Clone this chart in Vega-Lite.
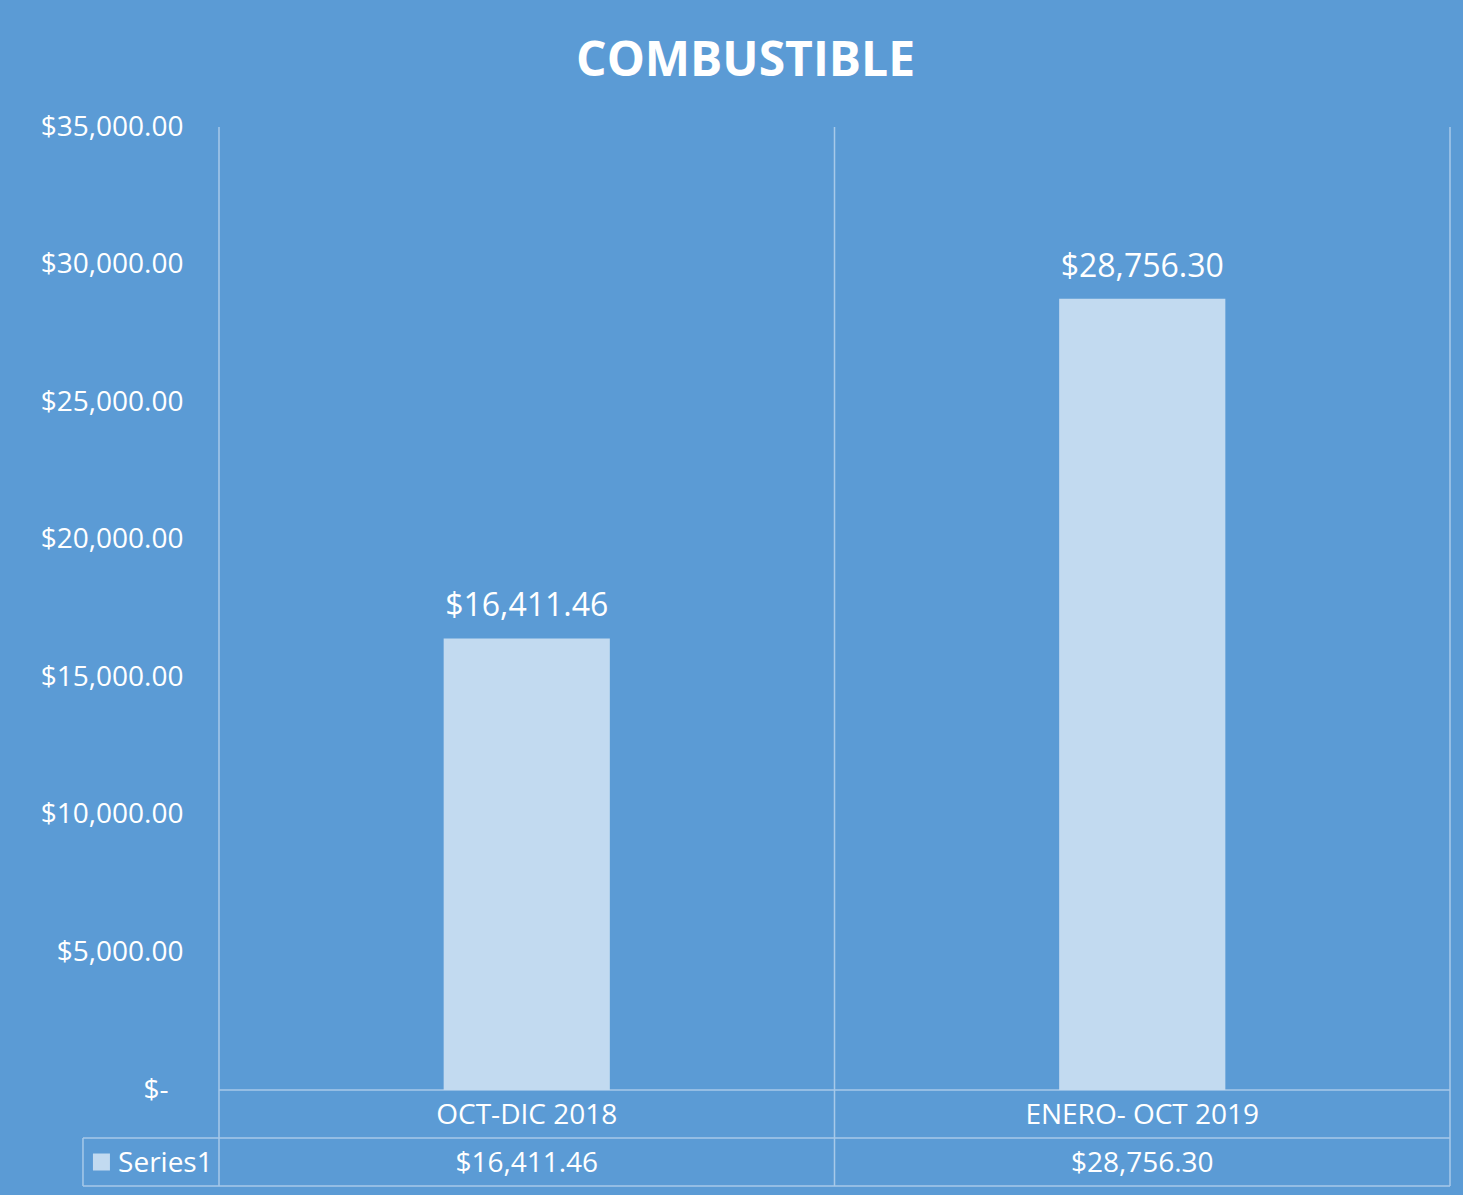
{
  "$schema": "https://vega.github.io/schema/vega-lite/v6.json",
  "autosize": {"type": "none"},
  "width": 1231,
  "height": 1059,
  "padding": {"left": 219, "top": 127, "right": 13, "bottom": 9},
  "background": "#5B9BD5",
  "config": {
    "view": {"stroke": null},
    "font": "Open Sans"
  },
  "title": {
    "text": "COMBUSTIBLE",
    "font": "Open Sans",
    "fontWeight": "bold",
    "fontSize": 48,
    "color": "#FFFFFF",
    "anchor": "middle",
    "frame": "bounds",
    "offset": 27
  },
  "datasets": {
    "bars": [
      {"periodo": "OCT-DIC 2018", "monto": 16411.46},
      {"periodo": "ENERO- OCT 2019", "monto": 28756.30}
    ],
    "grid": [
      {"x": 0, "x2": 0, "y": 35000, "y2": -3489},
      {"x": 1, "x2": 1, "y": 35000, "y2": -3489},
      {"x": 2, "x2": 2, "y": 35000, "y2": -3489},
      {"x": -0.221, "x2": -0.221, "y": -1745, "y2": -3489},
      {"x": 0, "x2": 2, "y": 0, "y2": 0},
      {"x": -0.221, "x2": 2, "y": -1745, "y2": -1745},
      {"x": -0.221, "x2": 2, "y": -3489, "y2": -3489}
    ],
    "legend": [
      {"x": -0.191, "xt": -0.164, "serie": "Series1"}
    ]
  },
  "resolve": {"scale": {"x": "independent"}},
  "layer": [
    {
      "data": {"name": "grid"},
      "mark": {"type": "rule", "color": "#A7C9E9", "strokeWidth": 1.5},
      "encoding": {
        "x": {"field": "x", "type": "quantitative", "scale": {"domain": [0, 2], "nice": false, "zero": false}, "axis": null},
        "x2": {"field": "x2"},
        "y": {"field": "y", "type": "quantitative", "scale": {"domain": [-3489, 35000], "nice": false, "zero": false},
              "axis": {"values": [0, 5000, 10000, 15000, 20000, 25000, 30000, 35000], "title": null, "domain": false, "ticks": false, "grid": false,
                       "labelFontSize": 28, "labelColor": "#FFFFFF", "labelFont": "Open Sans",
                       "labelPadding": {"condition": {"test": "datum.value == 0", "value": 51}, "value": 36},
                       "labelExpr": "datum.value == 0 ? '$-' : '$' + format(datum.value, ',.2f')"}},
        "y2": {"field": "y2"}
      }
    },
    {
      "data": {"name": "bars"},
      "mark": {"type": "bar", "fill": "#C2DAF0"},
      "encoding": {
        "x": {"field": "periodo", "type": "nominal", "sort": null, "scale": {"paddingInner": 0.73, "paddingOuter": 0.365}, "axis": null},
        "y": {"field": "monto", "type": "quantitative"}
      }
    },
    {
      "data": {"name": "bars"},
      "mark": {"type": "text", "color": "#FFFFFF", "fontSize": 32, "baseline": "alphabetic", "dy": -22, "font": "Open Sans"},
      "encoding": {
        "x": {"field": "periodo", "type": "nominal", "sort": null, "axis": null},
        "y": {"field": "monto", "type": "quantitative"},
        "text": {"field": "monto", "type": "quantitative", "format": "$,.2f"}
      }
    },
    {
      "data": {"name": "bars"},
      "mark": {"type": "text", "color": "#FFFFFF", "fontSize": 28, "baseline": "middle", "font": "Open Sans"},
      "encoding": {
        "x": {"field": "periodo", "type": "nominal", "sort": null, "axis": null},
        "y": {"datum": -940},
        "text": {"field": "periodo", "type": "nominal"}
      }
    },
    {
      "data": {"name": "bars"},
      "mark": {"type": "text", "color": "#FFFFFF", "fontSize": 28, "baseline": "middle", "font": "Open Sans"},
      "encoding": {
        "x": {"field": "periodo", "type": "nominal", "sort": null, "axis": null},
        "y": {"datum": -2685},
        "text": {"field": "monto", "type": "quantitative", "format": "$,.2f"}
      }
    },
    {
      "data": {"name": "legend"},
      "mark": {"type": "square", "fill": "#C2DAF0", "size": 289, "opacity": 1},
      "encoding": {
        "x": {"field": "x", "type": "quantitative", "scale": {"domain": [0, 2], "nice": false, "zero": false}, "axis": null},
        "y": {"datum": -2617}
      }
    },
    {
      "data": {"name": "legend"},
      "mark": {"type": "text", "color": "#FFFFFF", "fontSize": 28, "baseline": "middle", "align": "left", "font": "Open Sans"},
      "encoding": {
        "x": {"field": "xt", "type": "quantitative", "scale": {"domain": [0, 2], "nice": false, "zero": false}, "axis": null},
        "y": {"datum": -2685},
        "text": {"field": "serie", "type": "nominal"}
      }
    }
  ]
}
